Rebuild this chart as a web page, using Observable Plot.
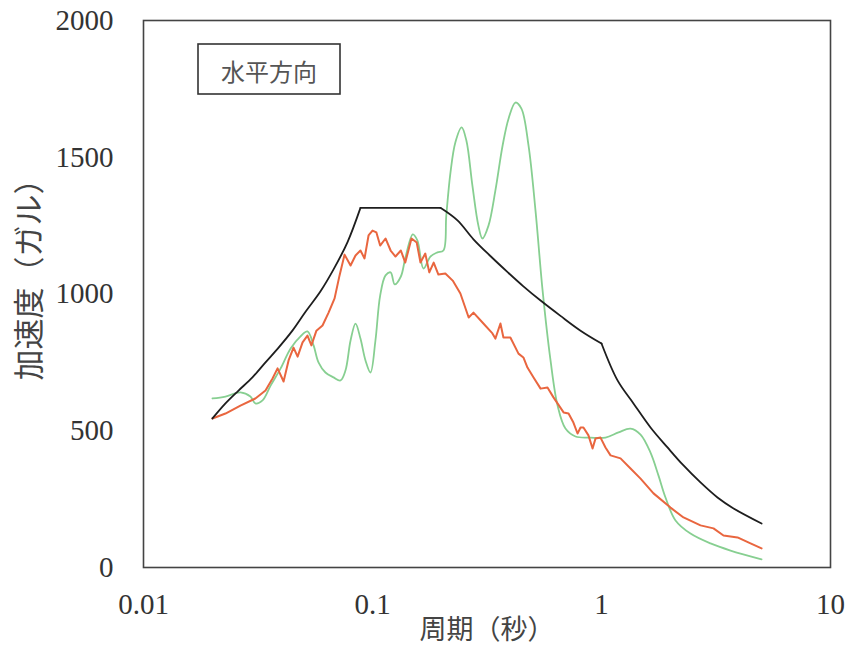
<!DOCTYPE html>
<html>
<head>
<meta charset="utf-8">
<script src="https://cdn.jsdelivr.net/npm/d3@7"></script>
<script src="https://cdn.jsdelivr.net/npm/@observablehq/plot@0.6"></script>
<style>
  html, body { margin: 0; padding: 0; background: #fff; }
</style>
</head>
<body>
<div id="chart"></div>
<script>
// Design spectrum (black), split into its straight/curved pieces
const blackT = [0.02,0.0228,0.026,0.0299,0.0341,0.0389,0.0447,0.051,0.0593,0.0676,0.0778,0.0886, 0.0886,0.198, 0.198,0.235,0.276,0.328,0.389,0.456,0.542,0.662,0.81,1.0, 1.0,1.175,1.379,1.637,1.942,2.281,2.706,3.21,3.772,5.0];
const blackA = [545,600,647,695,750,804,866,935,1010,1090,1190,1315, 1315,1315, 1315,1269,1200,1138,1080,1028,976,920,866,819, 819,684,600,512,439,373,311,256,216,161];
const blackSeg = [0,0,0,0,0,0,0,0,0,0,0,0, 1,1, 2,2,2,2,2,2,2,2,2,2, 3,3,3,3,3,3,3,3,3,3];

// Green record
const greenT = [0.02,0.0228,0.0265,0.0293,0.0308,0.0331,0.0359,0.0397,0.0439,0.0485,0.052,0.0553,0.0581,0.0623,0.0676,0.0725,0.0762,0.0802,0.0843,0.0886,0.0932,0.098,0.103,0.108,0.114,0.12,0.125,0.133,0.139,0.15,0.157,0.167,0.179,0.192,0.204,0.21,0.219,0.23,0.245,0.257,0.273,0.29,0.302,0.321,0.344,0.37,0.393,0.421,0.447,0.48,0.515,0.553,0.599,0.643,0.696,0.77,0.895,1.041,1.187,1.339,1.481,1.637,1.774,1.903,2.105,2.447,2.992,3.659,5.0];
const greenA = [618,625,640,625,600,611,665,728,801,845,863,812,750,713,695,684,720,830,892,837,757,713,830,994,1068,1079,1035,1064,1130,1218,1196,1093,1137,1152,1159,1287,1444,1554,1609,1561,1397,1250,1203,1250,1378,1543,1642,1700,1678,1543,1305,1013,757,592,508,479,475,475,494,508,486,420,336,256,172,124,88,62,30];

// Red record
const redT = [0.02,0.0228,0.0265,0.0308,0.0341,0.0366,0.0385,0.0409,0.043,0.0452,0.0471,0.0495,0.052,0.0541,0.0569,0.0605,0.0643,0.0683,0.0718,0.0755,0.0802,0.0843,0.0886,0.0923,0.0961,0.1,0.104,0.108,0.114,0.12,0.126,0.133,0.139,0.148,0.156,0.162,0.17,0.177,0.185,0.194,0.208,0.224,0.242,0.263,0.276,0.305,0.334,0.344,0.362,0.373,0.4,0.434,0.456,0.475,0.505,0.542,0.581,0.617,0.683,0.718,0.754,0.786,0.81,0.834,0.877,0.914,0.942,0.99,1.041,1.095,1.211,1.339,1.481,1.687,2.001,2.281,2.706,3.084,3.41,3.926,4.474,5.0];
const redA = [545,563,592,618,647,691,728,680,757,804,771,823,848,812,866,885,932,984,1068,1144,1104,1141,1159,1130,1214,1232,1225,1177,1203,1159,1137,1159,1115,1203,1188,1115,1148,1079,1115,1071,1075,1049,1002,914,932,892,856,837,892,841,841,782,768,731,695,654,658,622,567,563,530,490,512,512,483,435,472,475,439,410,399,362,325,271,219,183,154,143,117,110,88,70];

const xTicks = [0.01, 0.1, 1, 10];
const xTickLabels = ["0.01", "0.1", "1", "10"];
const yTicks = [0, 500, 1000, 1500, 2000];
const xTitle = "周期（秒）";
const yTitle = "加速度（ガル）";
const legendText = "水平方向";

const black = blackT.map((t, i) => ({t, a: blackA[i], seg: blackSeg[i]}));
const green = greenT.map((t, i) => ({t, a: greenA[i]}));
const red = redT.map((t, i) => ({t, a: redA[i]}));

const cjk = "'Noto Sans CJK JP', sans-serif";

const chart = Plot.plot({
  width: 852,
  height: 659,
  marginLeft: 143,
  marginRight: 22,
  marginTop: 20,
  marginBottom: 92,
  style: {background: "#fff", fontFamily: "'Liberation Serif', serif", fontSize: "29px", color: "#333"},
  x: {type: "log", domain: [0.01, 10]},
  y: {domain: [0, 2000]},
  marks: [
    Plot.frame({stroke: "#444", strokeWidth: 1.6}),
    Plot.axisX({ticks: xTicks, tickSize: 0, tickPadding: 26, tickFormat: (d) => xTickLabels[xTicks.indexOf(d)], label: null, fill: "#333"}),
    Plot.axisY({ticks: yTicks, tickSize: 0, tickPadding: 30, tickFormat: (d) => String(d), label: null, fill: "#333"}),
    Plot.line(green, {x: "t", y: "a", stroke: "#87cf91", strokeWidth: 1.8, curve: "catmull-rom"}),
    Plot.line(red, {x: "t", y: "a", stroke: "#e9663f", strokeWidth: 2}),
    Plot.line(black, {x: "t", y: "a", z: "seg", stroke: "#1e1e1e", strokeWidth: 1.8, curve: "catmull-rom"}),
    Plot.text([xTitle], {text: d => d, frameAnchor: "bottom", textAnchor: "middle", dy: 71, fontFamily: cjk, fontSize: 27, fill: "#444"}),
    Plot.text([yTitle], {text: d => d, frameAnchor: "left", textAnchor: "middle", rotate: -90, dx: -113, dy: -22, fontFamily: cjk, fontSize: 31, letterSpacing: 4, fill: "#444"})
  ]
});

const svg = d3.select(chart);
const g = svg.append("g");
g.append("rect").attr("x", 198).attr("y", 44).attr("width", 142).attr("height", 50)
  .attr("fill", "#fff").attr("stroke", "#333").attr("stroke-width", 1.6);
g.append("text").attr("x", 269).attr("y", 70).attr("text-anchor", "middle")
  .attr("dominant-baseline", "central").attr("font-family", cjk).attr("font-size", 24)
  .attr("fill", "#555").text(legendText);

document.getElementById("chart").appendChild(chart);
</script>
</body>
</html>
